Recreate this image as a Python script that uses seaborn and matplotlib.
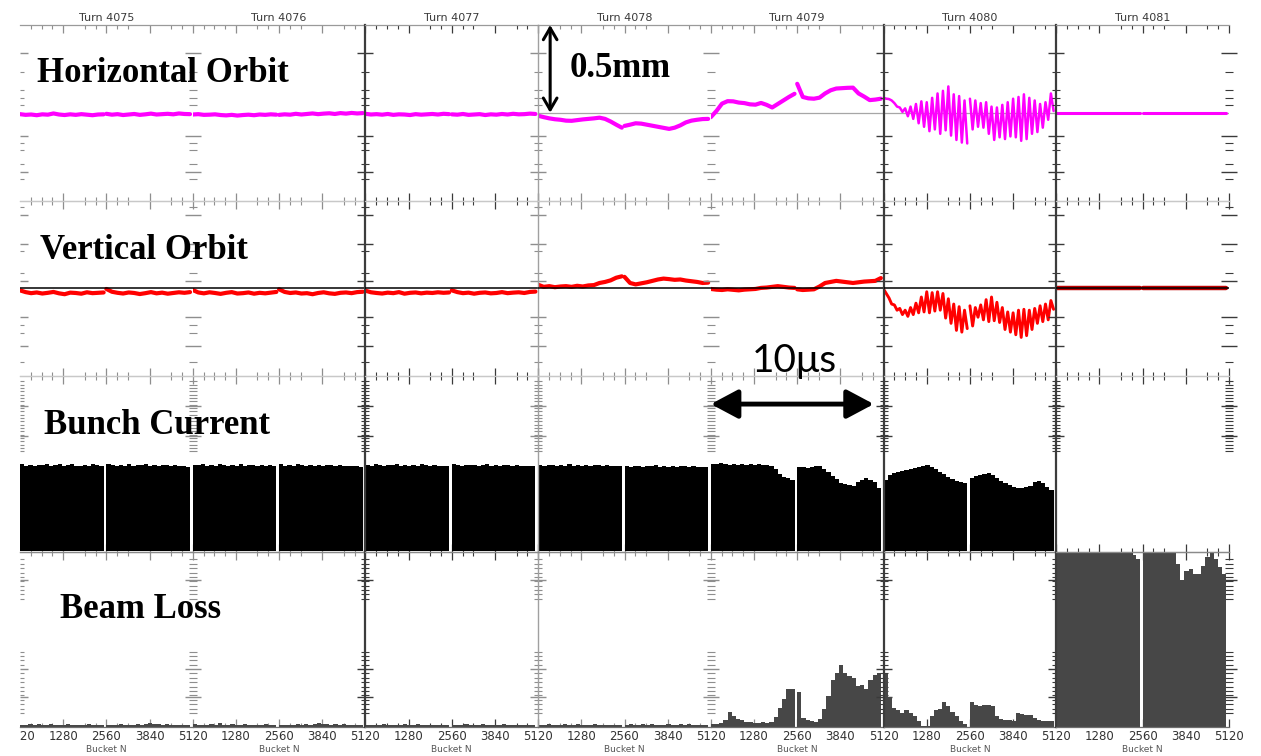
import numpy as np
import pandas as pd
import matplotlib
matplotlib.use("Agg")
import matplotlib.pyplot as plt
import seaborn as sns
from matplotlib.ticker import FixedLocator
from matplotlib.transforms import Bbox, TransformedBbox, offset_copy

# ---------------------------------------------------------------- data
turns = [4075, 4076, 4077, 4078, 4079, 4080, 4081]
bucket_ticks = [1280, 2560, 3840, 5120]
trains = [(0, 2480), (2560, 5040)]          # two bunch trains per turn

# horizontal orbit offset (mm), samples along train 1 then train 2
h_orbit_4075 = [-0.008, -0.012, -0.010, -0.014, -0.009, -0.011, -0.004, -0.010, -0.013, -0.009, -0.012, -0.008, -0.011, -0.014, -0.010, -0.009,
                -0.006, -0.011, -0.008, -0.013, -0.010, -0.007, -0.012, -0.009, -0.005, -0.010, -0.008, -0.006, -0.009, -0.004, -0.007, -0.008]
h_orbit_4076 = [-0.010, -0.008, -0.012, -0.011, -0.009, -0.013, -0.015, -0.012, -0.016, -0.013, -0.011, -0.014, -0.010, -0.012, -0.009, -0.011,
                -0.012, -0.009, -0.011, -0.006, -0.010, -0.007, -0.004, -0.008, -0.005, -0.003, -0.007, -0.002, -0.005, -0.001, -0.004, -0.002]
h_orbit_4077 = [-0.006, -0.010, -0.008, -0.011, -0.007, -0.012, -0.009, -0.010, -0.013, -0.008, -0.011, -0.009, -0.007, -0.010, -0.006, -0.008,
                -0.009, -0.011, -0.007, -0.012, -0.010, -0.008, -0.013, -0.009, -0.011, -0.007, -0.010, -0.006, -0.009, -0.008, -0.005, -0.007]
h_orbit_4078 = [-0.017, -0.025, -0.032, -0.037, -0.040, -0.045, -0.046, -0.042, -0.038, -0.035, -0.032, -0.028, -0.035, -0.050, -0.068, -0.085,
                -0.075, -0.068, -0.060, -0.062, -0.068, -0.074, -0.080, -0.086, -0.092, -0.085, -0.072, -0.055, -0.045, -0.040, -0.036, -0.035]
h_orbit_4079 = [-0.025, 0.010, 0.052, 0.066, 0.065, 0.058, 0.055, 0.048, 0.046, 0.056, 0.045, 0.030, 0.050, 0.070, 0.090, 0.108,
                0.165, 0.090, 0.082, 0.080, 0.086, 0.110, 0.128, 0.138, 0.140, 0.142, 0.143, 0.110, 0.092, 0.072, 0.075, 0.080]
h_orbit_4080 = [0.085, 0.080, 0.078, 0.070, 0.055, 0.035, 0.030, 0.005, 0.025, -0.020, 0.035, -0.035, 0.050, -0.060, 0.065, -0.080,
                0.060, -0.105, 0.085, -0.095, 0.110, -0.120, 0.125, -0.100, 0.150, -0.130, 0.105, -0.155, 0.095, -0.170, 0.070, -0.175,
                0.080, -0.095, 0.070, -0.080, 0.055, -0.085, 0.060, -0.120, 0.035, -0.155, 0.030, -0.140, 0.045, -0.150, 0.060, -0.135,
                0.080, -0.140, 0.090, -0.160, 0.105, -0.150, 0.085, -0.120, 0.070, -0.110, 0.050, -0.085, 0.060, -0.040, 0.110, 0.010]
h_orbit_4081 = [0.0, 0.0, 0.0, 0.0, 0.0, 0.0]

# vertical orbit offset (mm)
v_orbit_4075 = [-0.012, -0.022, -0.028, -0.024, -0.030, -0.026, -0.021, -0.029, -0.034, -0.025, -0.027, -0.031, -0.023, -0.028, -0.026, -0.024,
                -0.004, -0.020, -0.026, -0.030, -0.024, -0.027, -0.033, -0.028, -0.022, -0.029, -0.025, -0.031, -0.027, -0.023, -0.026, -0.022]
v_orbit_4076 = [-0.010, -0.024, -0.029, -0.023, -0.027, -0.032, -0.026, -0.022, -0.030, -0.028, -0.024, -0.031, -0.026, -0.029, -0.025, -0.021,
                -0.006, -0.021, -0.027, -0.024, -0.030, -0.028, -0.034, -0.027, -0.023, -0.029, -0.032, -0.026, -0.024, -0.028, -0.022, -0.020]
v_orbit_4077 = [-0.014, -0.023, -0.027, -0.030, -0.025, -0.028, -0.022, -0.031, -0.026, -0.024, -0.029, -0.025, -0.027, -0.023, -0.026, -0.024,
                -0.012, -0.022, -0.028, -0.025, -0.031, -0.026, -0.024, -0.029, -0.027, -0.022, -0.028, -0.025, -0.023, -0.027, -0.021, -0.019]
v_orbit_4078 = [0.020, 0.008, 0.012, 0.006, 0.010, 0.012, 0.008, 0.014, 0.010, 0.016, 0.018, 0.030, 0.036, 0.045, 0.060, 0.068,
                0.065, 0.030, 0.022, 0.028, 0.034, 0.042, 0.050, 0.055, 0.052, 0.048, 0.050, 0.044, 0.040, 0.036, 0.030, 0.032]
v_orbit_4079 = [-0.004, -0.008, -0.010, -0.006, -0.009, -0.012, -0.008, -0.006, -0.004, 0.002, 0.004, 0.008, 0.012, 0.008, 0.004, 0.002,
                -0.006, -0.010, -0.008, -0.006, 0.010, 0.030, 0.036, 0.042, 0.038, 0.034, 0.030, 0.034, 0.038, 0.040, 0.042, 0.058]
v_orbit_4080 = [-0.005, -0.030, -0.055, -0.090, -0.095, -0.125, -0.115, -0.150, -0.125, -0.160, -0.110, -0.150, -0.085, -0.140, -0.050, -0.135,
                -0.020, -0.140, -0.025, -0.130, -0.020, -0.125, -0.030, -0.170, -0.060, -0.200, -0.090, -0.240, -0.105, -0.250, -0.125, -0.230,
                -0.100, -0.215, -0.110, -0.165, -0.095, -0.180, -0.065, -0.190, -0.050, -0.185, -0.080, -0.195, -0.110, -0.235, -0.135, -0.250,
                -0.140, -0.265, -0.125, -0.280, -0.120, -0.270, -0.125, -0.235, -0.115, -0.200, -0.100, -0.190, -0.090, -0.180, -0.070, -0.120]
v_orbit_4081 = [0.0, 0.0, 0.0, 0.0, 0.0, 0.0]

# bunch current (normalised), bins along train 1 then train 2
bunch_4075 = [0.497, 0.489, 0.494, 0.486, 0.495, 0.491, 0.499, 0.488, 0.493, 0.496, 0.487, 0.492, 0.498, 0.490, 0.485, 0.494, 0.489, 0.496, 0.491, 0.487,
              0.499, 0.492, 0.488, 0.495, 0.490, 0.497, 0.486, 0.493, 0.491, 0.496, 0.489, 0.494, 0.487, 0.492, 0.495, 0.488, 0.491, 0.486, 0.489, 0.484]
bunch_4076 = [0.495, 0.491, 0.498, 0.487, 0.493, 0.489, 0.496, 0.492, 0.486, 0.494, 0.490, 0.497, 0.488, 0.493, 0.491, 0.487, 0.494, 0.489, 0.492, 0.486,
              0.498, 0.490, 0.494, 0.488, 0.496, 0.492, 0.487, 0.495, 0.490, 0.493, 0.486, 0.491, 0.494, 0.489, 0.492, 0.487, 0.490, 0.485, 0.488, 0.484]
bunch_4077 = [0.494, 0.490, 0.496, 0.492, 0.488, 0.495, 0.491, 0.497, 0.489, 0.493, 0.487, 0.494, 0.490, 0.496, 0.492, 0.488, 0.493, 0.490, 0.487, 0.489,
              0.497, 0.493, 0.489, 0.495, 0.491, 0.494, 0.488, 0.492, 0.496, 0.490, 0.493, 0.487, 0.491, 0.494, 0.489, 0.492, 0.486, 0.490, 0.488, 0.485]
bunch_4078 = [0.493, 0.489, 0.495, 0.491, 0.487, 0.494, 0.490, 0.496, 0.488, 0.492, 0.486, 0.493, 0.489, 0.495, 0.491, 0.487, 0.492, 0.489, 0.486, 0.488,
              0.488, 0.484, 0.490, 0.486, 0.482, 0.489, 0.485, 0.491, 0.483, 0.487, 0.481, 0.488, 0.484, 0.490, 0.486, 0.482, 0.487, 0.484, 0.481, 0.479]
bunch_4079 = [0.500, 0.498, 0.502, 0.497, 0.495, 0.499, 0.494, 0.497, 0.492, 0.496, 0.493, 0.497, 0.492, 0.494, 0.488, 0.468, 0.440, 0.424, 0.418, 0.410,
              0.484, 0.480, 0.478, 0.482, 0.486, 0.490, 0.472, 0.452, 0.430, 0.415, 0.392, 0.384, 0.378, 0.374, 0.396, 0.410, 0.417, 0.406, 0.395, 0.362]
bunch_4080 = [0.405, 0.436, 0.448, 0.455, 0.460, 0.466, 0.472, 0.476, 0.482, 0.490, 0.494, 0.480, 0.470, 0.455, 0.444, 0.425, 0.412, 0.402, 0.396, 0.390,
              0.418, 0.430, 0.437, 0.442, 0.446, 0.436, 0.416, 0.402, 0.390, 0.379, 0.370, 0.362, 0.360, 0.366, 0.372, 0.396, 0.400, 0.388, 0.368, 0.350]
bunch_4081 = [0.0, 0.0]

# beam loss monitor signal (normalised)
loss_4075 = [0.014, 0.011, 0.016, 0.012, 0.015, 0.010, 0.013, 0.018, 0.012, 0.014, 0.011, 0.015, 0.013, 0.010, 0.014, 0.012, 0.016, 0.011, 0.013, 0.012,
             0.013, 0.010, 0.012, 0.015, 0.011, 0.014, 0.012, 0.016, 0.013, 0.017, 0.022, 0.015, 0.018, 0.013, 0.015, 0.012, 0.014, 0.011, 0.013, 0.012]
loss_4076 = [0.015, 0.012, 0.014, 0.011, 0.016, 0.013, 0.020, 0.014, 0.012, 0.015, 0.011, 0.013, 0.016, 0.012, 0.014, 0.010, 0.013, 0.015, 0.012, 0.011,
             0.012, 0.014, 0.011, 0.013, 0.015, 0.012, 0.016, 0.013, 0.018, 0.021, 0.016, 0.019, 0.014, 0.016, 0.013, 0.015, 0.012, 0.014, 0.012, 0.011]
loss_4077 = [0.013, 0.011, 0.014, 0.012, 0.015, 0.013, 0.011, 0.014, 0.012, 0.016, 0.013, 0.011, 0.015, 0.012, 0.014, 0.013, 0.011, 0.014, 0.012, 0.013,
             0.012, 0.014, 0.011, 0.015, 0.013, 0.012, 0.014, 0.016, 0.012, 0.014, 0.011, 0.013, 0.015, 0.012, 0.014, 0.011, 0.013, 0.012, 0.014, 0.012]
loss_4078 = [0.014, 0.012, 0.015, 0.013, 0.011, 0.014, 0.016, 0.013, 0.012, 0.015, 0.014, 0.012, 0.013, 0.015, 0.012, 0.014, 0.013, 0.011, 0.014, 0.012,
             0.013, 0.015, 0.012, 0.014, 0.016, 0.013, 0.015, 0.012, 0.014, 0.013, 0.015, 0.012, 0.014, 0.016, 0.013, 0.015, 0.012, 0.014, 0.013, 0.012]
loss_4079 = [0.018, 0.016, 0.020, 0.038, 0.085, 0.062, 0.048, 0.040, 0.030, 0.028, 0.025, 0.024, 0.026, 0.022, 0.030, 0.055, 0.110, 0.160, 0.218, 0.215,
             0.200, 0.050, 0.040, 0.032, 0.026, 0.045, 0.100, 0.175, 0.270, 0.305, 0.355, 0.305, 0.290, 0.280, 0.235, 0.240, 0.215, 0.270, 0.295, 0.310]
loss_4080 = [0.300, 0.170, 0.110, 0.095, 0.082, 0.095, 0.080, 0.065, 0.035, 0.008, 0.004, 0.060, 0.095, 0.105, 0.140, 0.122, 0.085, 0.060, 0.035, 0.015,
             0.145, 0.128, 0.120, 0.125, 0.128, 0.118, 0.060, 0.048, 0.042, 0.040, 0.032, 0.080, 0.075, 0.070, 0.066, 0.050, 0.038, 0.032, 0.036, 0.034]
loss_4081 = [0.99, 1.0, 1.0, 1.0, 1.0, 1.0, 1.0, 1.0, 1.0, 1.0, 1.0, 1.0, 1.0, 1.0, 1.0, 1.0, 1.0, 1.0, 0.98, 0.96,
             1.0, 1.0, 1.0, 1.0, 1.0, 1.0, 1.0, 1.0, 0.93, 0.84, 0.89, 0.90, 0.87, 0.87, 0.92, 0.97, 0.99, 0.96, 0.91, 0.87]

h_orbit = dict(zip(turns, [h_orbit_4075, h_orbit_4076, h_orbit_4077, h_orbit_4078, h_orbit_4079, h_orbit_4080, h_orbit_4081]))
v_orbit = dict(zip(turns, [v_orbit_4075, v_orbit_4076, v_orbit_4077, v_orbit_4078, v_orbit_4079, v_orbit_4080, v_orbit_4081]))
bunch = dict(zip(turns, [bunch_4075, bunch_4076, bunch_4077, bunch_4078, bunch_4079, bunch_4080, bunch_4081]))
loss = dict(zip(turns, [loss_4075, loss_4076, loss_4077, loss_4078, loss_4079, loss_4080, loss_4081]))


def orbit_frame(values):
    n = len(values) // 2
    parts = []
    for k, (a, b) in enumerate(trains):
        parts.append(pd.DataFrame({"bucket": np.linspace(a, b, n),
                                   "offset": values[k * n:(k + 1) * n],
                                   "train": k}))
    return pd.concat(parts, ignore_index=True)


def bar_frame(values):
    """Per-bin signal plus the bin edges (gap between the two trains left empty)."""
    n = len(values) // 2
    e1 = np.linspace(trains[0][0], trains[0][1], n + 1)
    e2 = np.linspace(trains[1][0], trains[1][1], n + 1)
    edges = [float(v) for v in np.concatenate([e1, e2])]
    centers = np.concatenate([(e1[:-1] + e1[1:]) / 2, (e2[:-1] + e2[1:]) / 2])
    return pd.DataFrame({"bucket": centers, "signal": values}), edges


# ---------------------------------------------------------------- figure
sns.set_style("white")
plt.rcParams["font.family"] = ["DejaVu Sans"]
plt.rcParams["text.color"] = "black"

W, H = 1261, 756
def fx(px): return px / W
def fy(py): return 1 - py / H

fig = plt.figure(figsize=(W / 100, H / 100), dpi=100)
gs = fig.add_gridspec(4, 7, left=fx(20), right=fx(1229), top=fy(25), bottom=fy(727),
                      wspace=0, hspace=0)
axes = np.array([[fig.add_subplot(gs[r, c]) for c in range(7)] for r in range(4)])

ylims = [(-0.5, 0.5), (-0.5, 0.5), (0, 1), (0, 1)]
y_major = [[0.34, -0.13, -0.34],
           [0.42, 0.25, 0.04, -0.165, -0.33],
           [0.83, 0.66],
           [0.84, 0.33, 0.17]]
y_minor = [[0.23, 0.13, 0.085, 0.045, -0.17, -0.21, -0.29, -0.38],
           [0.465, 0.21, 0.087, -0.21, -0.255, -0.42],
           list(np.arange(0.57, 0.97, 0.019)),
           list(np.arange(0.73, 0.98, 0.025)) + list(np.arange(0.08, 0.44, 0.025))]
x_minor = [320, 640, 960, 1920, 2240, 2880, 3200, 4480, 4800]
strong_cols = {2, 5, 6}

for r in range(4):
    for c in range(7):
        ax = axes[r, c]
        ax.set_facecolor("none")
        strong = c in strong_cols
        tick_col = "#3a3a3a" if strong else "#8e8e8e"
        t = turns[c]

        if r == 0:
            if c >= 3:
                ax.axhline(0, color="#a6a6a6", lw=0.9, zorder=1)
            lw = {4080: 1.8, 4081: 2.2}.get(t, 3.0)
            sns.lineplot(data=orbit_frame(h_orbit[t]), x="bucket", y="offset", units="train",
                         estimator=None, color="#ff00ff", lw=lw, ax=ax, zorder=2, legend=False)
            ax.set_title(f"Turn {t}", fontsize=8, color="#3a3a3a", pad=3)
        elif r == 1:
            lw = {4080: 2.1, 4081: 3.2}.get(t, 3.0)
            col = "#c00000" if t == 4081 else "#ff0000"
            sns.lineplot(data=orbit_frame(v_orbit[t]), x="bucket", y="offset", units="train",
                         estimator=None, color=col, lw=lw, ax=ax, zorder=2, legend=False)
            ax.axhline(0, color="black", lw=1.1, zorder=3)
        elif r == 2:
            df, edges = bar_frame(bunch[t])
            if df["signal"].sum() > 0:
                sns.histplot(data=df, x="bucket", weights="signal", bins=edges, element="step",
                             fill=True, color="black", alpha=1, linewidth=0, ax=ax)
        else:
            df, edges = bar_frame(loss[t])
            sns.histplot(data=df, x="bucket", weights="signal", bins=edges, element="step",
                         fill=True, color="#474747", alpha=1, linewidth=0, ax=ax)

        for s in ("top", "bottom"):
            ax.spines[s].set_color("#c8c8c8")
            ax.spines[s].set_linewidth(0.9)
        ax.spines["right"].set_visible(False)
        if strong:
            ax.spines["left"].set_color("#3c3c3c")
            ax.spines["left"].set_linewidth(1.6)
        elif c == 3:
            ax.spines["left"].set_color("#a0a0a0")
            ax.spines["left"].set_linewidth(1.0)
        else:
            ax.spines["left"].set_visible(False)
        if r == 0:
            ax.spines["top"].set_color("#9a9a9a")
        if r == 3:
            ax.spines["bottom"].set_color("#6e6e6e")
            ax.spines["top"].set_color("#8a8a8a")
        if r == 2:
            ax.spines["bottom"].set_color("#8a8a8a")

        ax.set_xlim(0, 5120)
        ax.set_ylim(*ylims[r])
        ax.xaxis.set_major_locator(FixedLocator(bucket_ticks))
        ax.xaxis.set_minor_locator(FixedLocator(x_minor))
        ax.tick_params(axis="x", which="both", direction="in", top=True, bottom=True,
                       colors=tick_col, labelcolor="#333333", labelsize=8.5, pad=2,
                       labelbottom=(r == 3))
        ax.tick_params(axis="x", which="major", length=6, width=0.9)
        ax.tick_params(axis="x", which="minor", length=3, width=0.8)
        ax.yaxis.set_major_locator(FixedLocator(y_major[r]))
        ax.yaxis.set_minor_locator(FixedLocator(y_minor[r]))
        ax.tick_params(axis="y", which="both", direction=("in" if c == 0 else "inout"),
                       left=True, right=(c == 6), colors=tick_col, labelleft=False)
        ax.tick_params(axis="y", which="major", length=(6 if c == 0 else 12), width=1.0)
        ax.tick_params(axis="y", which="minor", length=(3 if c == 0 else 6), width=0.8)
        ax.set_ylabel("")
        if r == 3:
            ax.set_xticklabels([str(v) for v in bucket_ticks])
            ax.set_xlabel("Bucket N", fontsize=6.5, color="#555555", labelpad=1.5)
        else:
            ax.set_xlabel("")

# left-most bucket label, cut by the left margin of the panel grid
ax0 = axes[3, 0]
lab = ax0.text(0, 0, "5120", fontsize=8.5, color="#333333", ha="center", va="top",
               transform=offset_copy(ax0.get_xaxis_transform(), fig=fig, y=-2, units="points"))
lab.set_clip_box(TransformedBbox(Bbox.from_extents(fx(20), 0, 1, 1), fig.transFigure))
lab.set_clip_on(True)

# row names
serif = dict(family="Liberation Serif", weight="bold", fontsize=25, va="baseline",
             ha="left", color="black")
fig.text(fx(37), fy(82), "Horizontal Orbit", **serif)
fig.text(fx(40), fy(259), "Vertical Orbit", **serif)
fig.text(fx(44), fy(434), "Bunch Current", **serif)
fig.text(fx(60), fy(618), "Beam Loss", **serif)

# 0.5 mm scale bar on the horizontal orbit panel
axes[0, 3].annotate("", xy=(356, 0.5), xytext=(356, 0.0),
                    arrowprops=dict(arrowstyle="<->,head_length=0.6,head_width=0.35",
                                    mutation_scale=14, lw=2.2, color="black",
                                    shrinkA=0, shrinkB=0))
fig.text(fx(570), fy(77), "0.5mm", **serif)

# 10 us scale bar
axes[2, 4].annotate("", xy=(0, 0.84), xytext=(4830, 0.84),
                    arrowprops=dict(arrowstyle="<|-|>,head_length=0.75,head_width=0.4",
                                    mutation_scale=22, lw=3.5, color="black",
                                    shrinkA=0, shrinkB=0))
fig.text(fx(794), fy(372), "10\u03bcs", family=["Lato", "DejaVu Sans"], fontsize=28,
         ha="center", va="baseline", color="black")

fig.savefig("out.png", dpi=100)
